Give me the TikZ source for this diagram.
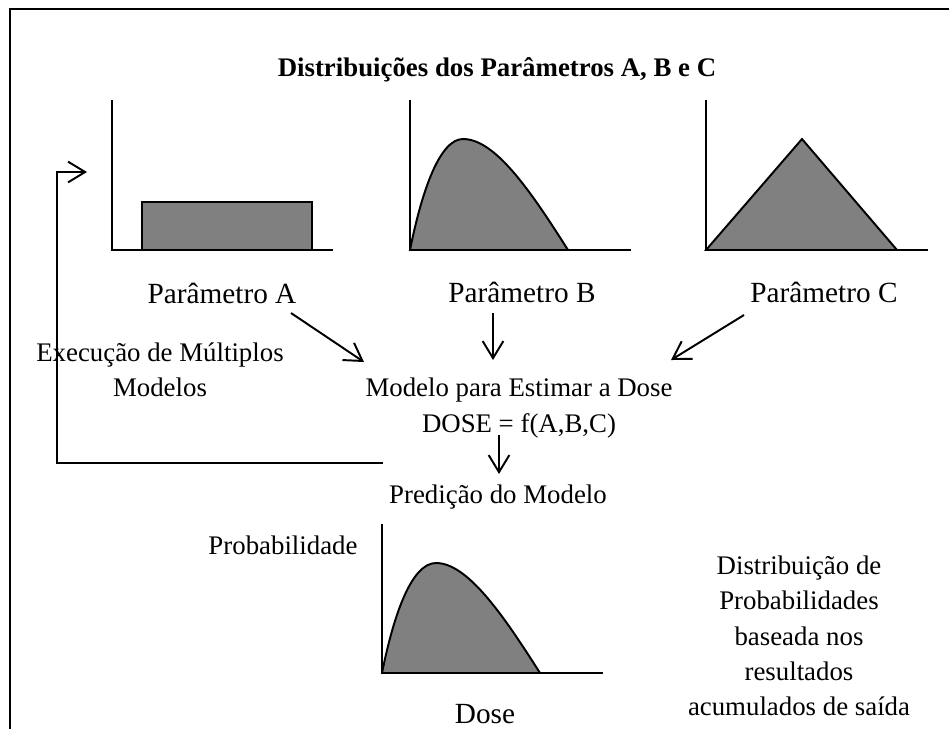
\documentclass[tikz,border=0pt]{standalone}
\usepackage{fontspec}
\setmainfont{Liberation Serif}
\usetikzlibrary{arrows.meta,positioning}
\tikzset{%
    eixo/.style={%
        line width=0.8pt
    },
    curva/.style={%
        draw, line width=0.8pt, fill=gray
    },
    seta/.style={%
        -{Straight Barb[length=7pt,width=8.5pt]}, line width=0.8pt
    },
    rotulo/.style={%
        inner sep=0pt, font=\fontsize{12}{14}\selectfont
    },
    texto/.style={%
        inner sep=0pt, align=center, font=\fontsize{11}{14.5}\selectfont
    },
}

\begin{document}
\begin{tikzpicture}[x=0.41pt, y=-0.41pt]
      \useasboundingbox (0,0) rectangle (949,729);
      % moldura
      \draw[line width=1.2pt] (949,9) -- (10,9) -- (10,729);
      \node[texto, font=\bfseries\fontsize{11}{13}\selectfont] (titulo) at (497,70) {Distribuições dos Parâmetros A, B e C};

      % parametro A
      \draw[curva] (142,250) rectangle (312,202);
      \draw[eixo] (112,100) -- (112,250) -- (333,250);
      % parametro B
      \begin{scope}[shift={(410,250)}]
        \draw[curva] (0,0) .. controls (12,-60) and (30,-111) .. (53,-111) .. controls (85,-111) and (120,-60) .. (158,0) -- cycle;
        \draw[eixo] (0,-150) -- (0,0) -- (221,0);
      \end{scope}
      % parametro C
      \draw[curva] (706,250) -- (802,139) -- (897,250) -- cycle;
      \draw[eixo] (706,100) -- (706,250) -- (928,250);

      \node[rotulo] (pa) at (222,293) {Parâmetro A};
      \node[rotulo] (pb) at (522,292) {Parâmetro B};
      \node[rotulo] (pc) at (824,292) {Parâmetro C};

      \node[texto] (exec) at (160,370) {Execução de Múltiplos\\Modelos};
      \node[texto, font=\fontsize{11}{15}\selectfont] (modelo) at (519,408) {Modelo para Estimar a Dose\\DOSE = f(A,B,C)};
      \node[texto] (pred) at (498,497) {Predição do Modelo};

      \coordinate (a-ini) at (291,313);
      \coordinate (a-fim) at (364,362);
      \coordinate (b-ini) at (493,313);
      \coordinate (b-fim) at (493,360);
      \coordinate (c-ini) at (744,315);
      \coordinate (c-fim) at (671,360);
      \coordinate (d-ini) at (499,435);
      \coordinate (d-fim) at (499,474);
      \draw[seta] (a-ini) -- (a-fim);
      \draw[seta] (b-ini) -- (b-fim);
      \draw[seta] (c-ini) -- (c-fim);
      \draw[seta] (d-ini) -- (d-fim);

      % retorno
      \coordinate (ret-ini) at (383,463);
      \coordinate (ret-fim) at (87,172);
      \draw[seta] (ret-ini) -- (57,463) |- (ret-fim);

      % distribuicao de saida
      \begin{scope}[shift={(382,673)}]
        \draw[curva] (0,0) .. controls (12,-60) and (30,-110) .. (54,-110) .. controls (85,-110) and (120,-60) .. (158,0) -- cycle;
        \draw[eixo] (0,-149) -- (0,0) -- (221,0);
      \end{scope}
      \node[texto] (prob) at (283,545) {Probabilidade};
      \node[rotulo] (dose) at (485,714) {Dose};
      \node[texto] (distr) at (799,636) {Distribuição de\\Probabilidades\\baseada nos\\resultados\\acumulados de saída};
\end{tikzpicture}
\end{document}
